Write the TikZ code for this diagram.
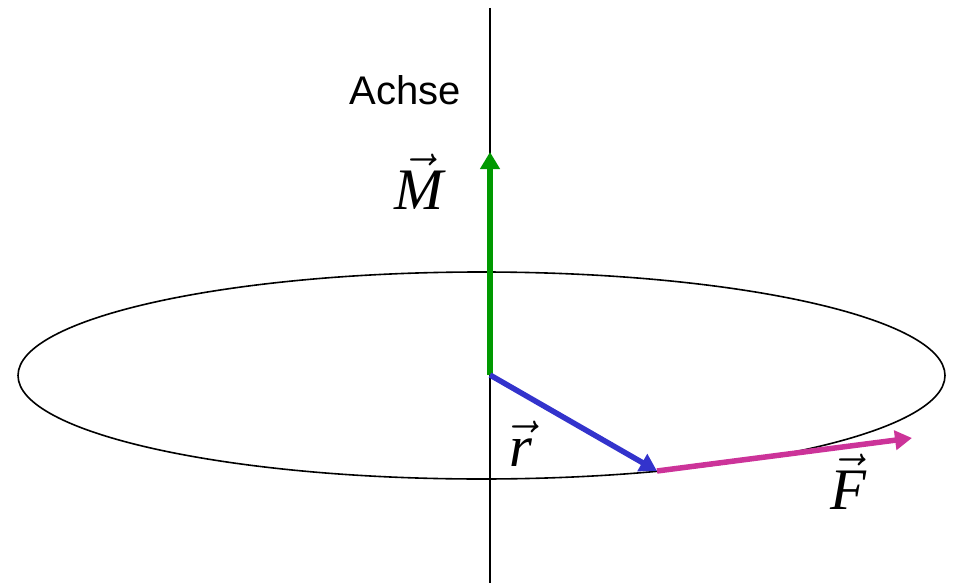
\documentclass[tikz,border=0pt]{standalone}
\usepackage{fontspec}
\newfontfamily\achsefont{Liberation Sans}
\newfontfamily\vecfont{Liberation Serif}
\usetikzlibrary{arrows.meta}
\definecolor{mgreen}{RGB}{0,153,0}
\definecolor{rblue}{RGB}{51,51,204}
\definecolor{fmagenta}{RGB}{204,51,153}
\newcommand{\vlbl}[1]{\scalebox{2.45}{$\vec{\mbox{\vecfont\itshape #1}}$}}

\begin{document}
\begin{tikzpicture}[x=1pt,y=-1pt,
    vec/.style={line width=5.5pt,-{Triangle[length=17pt,width=19pt]}},
    lbl/.style={font=\fontsize{24}{26}\selectfont}]
            \useasboundingbox (0,0) rectangle (953,583);
            \coordinate (O) at (490,375);
            \coordinate (A1) at (490,8);
            \coordinate (A2) at (490,583);
            \coordinate (M) at (490,152);
            \coordinate (P) at (657,471);
            \coordinate (F) at (912,438);

            \draw[line width=1.6pt] (481.5,375.5) ellipse (463.5 and 103.5);
            \draw[line width=1.6pt] (A1)--(A2);

            \draw[vec, mgreen] (O)--(M);
            \draw[vec, rblue] (O)--(P);
            \draw[vec, fmagenta] (P)--(F);

            \node[font=\achsefont\fontsize{40}{46}\selectfont] (achse) at (405,90) {Achse};
            \node[lbl] (lM) at (419,182) {\vlbl{M}};
            \node[lbl] (lr) at (521,444) {\vlbl{r}};
            \node[lbl] (lF) at (848,482) {\vlbl{F}};
        \end{tikzpicture}
\end{document}
